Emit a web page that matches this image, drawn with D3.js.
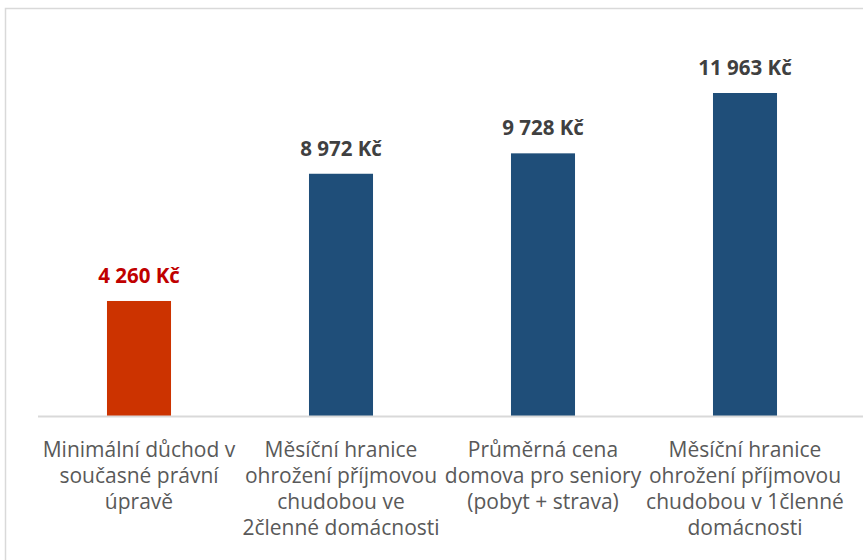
<!DOCTYPE html>
<html>
<head>
<meta charset="utf-8">
<script src="https://cdn.jsdelivr.net/npm/d3@7"></script>
<style>
  body { margin: 0; background: #fff; }
  svg { display: block; }
  text { font-family: "Open Sans", Lato, sans-serif; }
</style>
</head>
<body>
<main></main>
<script>
const categories = [
  "Minimální důchod v současné právní úpravě",
  "Měsíční hranice ohrožení příjmovou chudobou ve 2členné domácnosti",
  "Průměrná cena domova pro seniory (pobyt + strava)",
  "Měsíční hranice ohrožení příjmovou chudobou v 1členné domácnosti"
];
const categoryLines = [
  ["Minimální důchod v", "současné právní", "úpravě"],
  ["Měsíční hranice", "ohrožení příjmovou", "chudobou ve", "2členné domácnosti"],
  ["Průměrná cena", "domova pro seniory", "(pobyt + strava)"],
  ["Měsíční hranice", "ohrožení příjmovou", "chudobou v 1členné", "domácnosti"]
];
const values = [4260, 8972, 9728, 11963];
const valueLabels = ["4 260 Kč", "8 972 Kč", "9 728 Kč", "11 963 Kč"];

const width = 863, height = 560;
const margin = { top: 38, right: 17, bottom: 144, left: 38 };

const svg = d3.select("main").append("svg")
  .attr("width", width)
  .attr("height", height);

// chart border (runs past the right and bottom edges)
svg.append("rect")
  .attr("x", 5.5).attr("y", 8.5)
  .attr("width", 920).attr("height", 600)
  .attr("fill", "none")
  .attr("stroke", "#d9d9d9")
  .attr("stroke-width", 1.5);

const x = d3.scaleBand()
  .domain(categories)
  .range([margin.left, width - margin.right])
  .paddingInner(0.683)
  .paddingOuter(0.3415);

const y = d3.scaleLinear()
  .domain([0, 14000])
  .range([height - margin.bottom, margin.top]);

const color = d3.scaleOrdinal()
  .domain(categories)
  .range(["#cc3300", "#1f4e79", "#1f4e79", "#1f4e79"]);

const labelColor = d3.scaleOrdinal()
  .domain(categories)
  .range(["#c00000", "#404040", "#404040", "#404040"]);

svg.selectAll(".bar")
  .data(categories)
  .enter()
  .append("rect")
  .attr("class", "bar")
  .attr("x", d => x(d))
  .attr("width", x.bandwidth())
  .attr("y", (d, i) => y(values[i]))
  .attr("height", (d, i) => y(0) - y(values[i]))
  .attr("fill", d => color(d));

// baseline
svg.append("line")
  .attr("x1", margin.left).attr("x2", width)
  .attr("y1", y(0) + 0.5).attr("y2", y(0) + 0.5)
  .attr("stroke", "#d9d9d9")
  .attr("stroke-width", 2);

svg.selectAll(".value-label")
  .data(categories)
  .enter()
  .append("text")
  .attr("class", "value-label")
  .attr("x", d => x(d) + x.bandwidth() / 2)
  .attr("y", (d, i) => y(values[i]) - 18)
  .attr("text-anchor", "middle")
  .style("font-size", "20.5px")
  .style("font-weight", "bold")
  .attr("fill", d => labelColor(d))
  .text((d, i) => valueLabels[i]);

const cat = svg.selectAll(".cat-label")
  .data(categories)
  .enter()
  .append("text")
  .attr("class", "cat-label")
  .attr("text-anchor", "middle")
  .attr("fill", "#595959")
  .style("font-size", "21px");

cat.selectAll("tspan")
  .data((d, i) => categoryLines[i].map(t => ({ t, c: d })))
  .enter()
  .append("tspan")
  .attr("x", d => x(d.c) + x.bandwidth() / 2)
  .attr("y", (d, j) => y(0) + 41 + j * 26)
  .text(d => d.t);
</script>
</body>
</html>
